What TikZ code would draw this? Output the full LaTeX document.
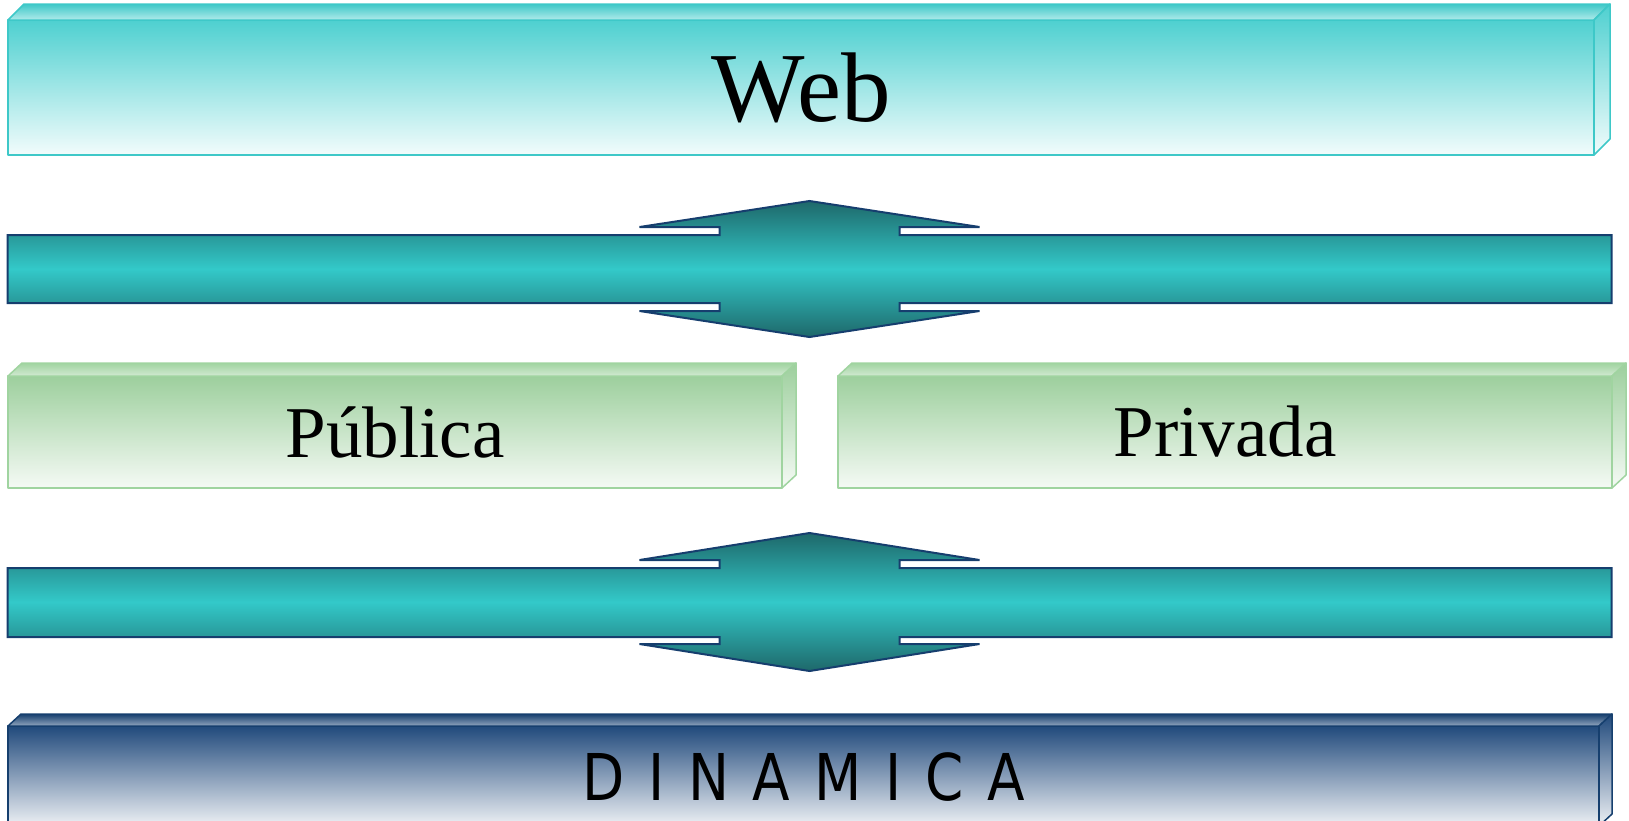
\documentclass[tikz,border=0pt]{standalone}
\usepackage{fontspec}
\setmainfont{Liberation Serif}
\newfontfamily\dinfont{DejaVu Sans}

\definecolor{webtop}{RGB}{78,208,208}
\definecolor{weblow}{RGB}{242,252,252}
\definecolor{webline}{RGB}{62,200,200}
\definecolor{grtop}{RGB}{157,207,157}
\definecolor{grlow}{RGB}{245,250,245}
\definecolor{grline}{RGB}{160,212,160}
\definecolor{bltop}{RGB}{33,74,124}
\definecolor{bllow}{RGB}{238,241,245}
\definecolor{blline}{RGB}{22,63,110}
\definecolor{ardark}{RGB}{30,104,106}
\definecolor{arbright}{RGB}{51,201,201}
\definecolor{arline}{RGB}{22,62,110}

\tikzset{
  face/.style={line width=1.5pt,line join=round},
  front/.style={face,draw,inner sep=0pt,outer sep=0pt},
  webfront/.style={front,draw=webline,top color=webtop,bottom color=weblow,
    minimum width=1586pt,minimum height=135pt},
  webtopface/.style={face,draw=webline,top color=webline,bottom color=weblow!60!webtop},
  websideface/.style={face,draw=webline,top color=webtop,bottom color=weblow},
  grfront/.style={front,draw=grline,top color=grtop,bottom color=grlow,
    minimum width=774pt,minimum height=112pt},
  grtopface/.style={face,draw=grline,top color=grline,bottom color=grlow!60!grtop},
  grsideface/.style={face,draw=grline,top color=grtop,bottom color=grlow},
  blfront/.style={front,draw=blline,top color=bltop,bottom color=bllow,
    minimum width=1591pt,minimum height=100pt},
  bltopface/.style={face,draw=blline,top color=blline,bottom color=bllow!55!bltop},
  blsideface/.style={face,draw=blline,top color=bltop,bottom color=bllow},
  crossarrow/.style={draw=arline,line width=2pt,line join=miter,
    top color=ardark,bottom color=ardark,middle color=arbright}
}

\begin{document}
\begin{tikzpicture}[x=1pt,y=-1pt]
  \useasboundingbox (0,0) rectangle (1629,820);

  % Web
  \node[webfront] (web) at (801,87.5) {\fontsize{99}{102}\selectfont Web};
  \draw[webtopface] (web.north west) -- ++(16,-16) -- ([shift={(16,-16)}]web.north east) -- (web.north east) -- cycle;
  \draw[websideface] (web.north east) -- ++(16,-16) -- ([shift={(16,-16)}]web.south east) -- (web.south east) -- cycle;

  % upper crossing arrow
  \coordinate (c1) at (809.5,269);
  \draw[crossarrow,shift={(c1)}] (-802,-34) -- (-90,-34) -- (-90,-42) -- (-170,-42) -- (0,-68)
    -- (170,-42) -- (90,-42) -- (90,-34) -- (802,-34) -- (802,34) -- (90,34) -- (90,42)
    -- (170,42) -- (0,68) -- (-170,42) -- (-90,42) -- (-90,34) -- (-802,34) -- cycle;

  % Publica / Privada
  \node[grfront] (pub) at (395,432) {\fontsize{73}{76}\selectfont Pública};
  \draw[grtopface] (pub.north west) -- ++(14,-13) -- ([shift={(14,-13)}]pub.north east) -- (pub.north east) -- cycle;
  \draw[grsideface] (pub.north east) -- ++(14,-13) -- ([shift={(14,-13)}]pub.south east) -- (pub.south east) -- cycle;

  \node[grfront] (priv) at (1225,432) {\fontsize{73}{76}\selectfont Privada};
  \draw[grtopface] (priv.north west) -- ++(14,-13) -- ([shift={(14,-13)}]priv.north east) -- (priv.north east) -- cycle;
  \draw[grsideface] (priv.north east) -- ++(14,-13) -- ([shift={(14,-13)}]priv.south east) -- (priv.south east) -- cycle;

  % lower crossing arrow
  \coordinate (c2) at (809.5,602.5);
  \draw[crossarrow,shift={(c2)}] (-802,-34.5) -- (-90,-34.5) -- (-90,-42.5) -- (-170,-42.5) -- (0,-69.5)
    -- (170,-42.5) -- (90,-42.5) -- (90,-34.5) -- (802,-34.5) -- (802,34.5) -- (90,34.5) -- (90,41.5)
    -- (170,41.5) -- (0,68.5) -- (-170,41.5) -- (-90,41.5) -- (-90,34.5) -- (-802,34.5) -- cycle;

  % Dinamica
  \node[blfront,text height=48pt,text depth=0pt] (din) at (803.5,776)
    {\dinfont\fontsize{64.5}{66}\selectfont\spaceskip=28pt\scalebox{0.85}[1]{D I N A M I C A}};
  \draw[bltopface] (din.north west) -- ++(13,-12) -- ([shift={(13,-12)}]din.north east) -- (din.north east) -- cycle;
  \draw[blsideface] (din.north east) -- ++(13,-12) -- ([shift={(13,-12)}]din.south east) -- (din.south east) -- cycle;
\end{tikzpicture}
\end{document}
